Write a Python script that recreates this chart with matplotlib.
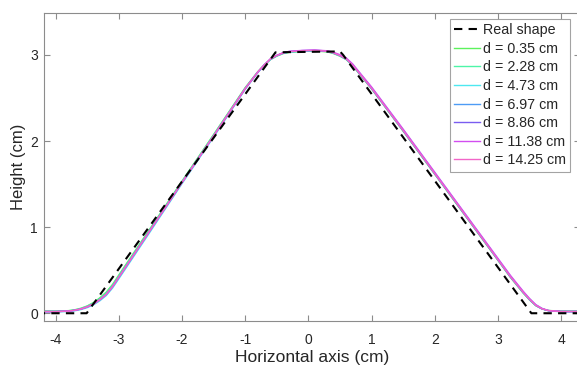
"""
Surface height profiles at several distances vs. the real trapezoid shape
"""
import matplotlib.pyplot as plt

plt.rcParams['font.family'] = ['Liberation Sans', 'DejaVu Sans']
plt.rcParams['axes.unicode_minus'] = False

# Real (nominal) trapezoid shape
real_x = [-4.3, -3.51, -0.52, 0.50, 0.55, 3.53, 4.4]
real_y = [0.0, 0.0, 3.03, 3.04, 3.00, 0.0, 0.0]

# Measured profiles, shared horizontal positions (cm)
x_meas = [-4.20, -4.00, -3.80, -3.70, -3.60, -3.50, -3.40, -3.30, -3.20, -3.10, -3.00,
          -2.50, -2.00, -1.50, -1.00,
          -0.80, -0.70, -0.60, -0.50, -0.40, -0.30, -0.10,
          0.10, 0.30, 0.40, 0.50, 0.60, 0.70, 0.80,
          1.00, 1.50, 2.00, 2.50, 3.00,
          3.20, 3.30, 3.40, 3.50, 3.60, 3.70, 3.80,
          4.00, 4.40]

h_035 = [0.025, 0.025, 0.030, 0.040, 0.058, 0.085, 0.125, 0.180, 0.245, 0.335, 0.445,
         0.990, 1.535, 2.075, 2.620,
         2.805, 2.880, 2.945, 2.985, 3.015, 3.030, 3.040,
         3.045, 3.035, 3.015, 2.985, 2.945, 2.875, 2.785,
         2.605, 2.115, 1.615, 1.115, 0.615,
         0.415, 0.325, 0.235, 0.155, 0.088, 0.050, 0.032,
         0.025, 0.025]
h_228 = [0.022, 0.022, 0.028, 0.038, 0.055, 0.082, 0.120, 0.172, 0.236, 0.325, 0.435,
         0.982, 1.530, 2.070, 2.615,
         2.803, 2.882, 2.948, 2.988, 3.018, 3.033, 3.043,
         3.048, 3.038, 3.018, 2.988, 2.948, 2.878, 2.788,
         2.608, 2.118, 1.618, 1.118, 0.618,
         0.418, 0.328, 0.238, 0.158, 0.090, 0.050, 0.031,
         0.022, 0.022]
h_473 = [0.015, 0.015, 0.020, 0.028, 0.042, 0.065, 0.098, 0.145, 0.205, 0.292, 0.400,
         0.950, 1.505, 2.045, 2.600,
         2.795, 2.878, 2.948, 2.990, 3.020, 3.035, 3.045,
         3.050, 3.042, 3.024, 2.995, 2.957, 2.890, 2.800,
         2.622, 2.132, 1.632, 1.132, 0.632,
         0.432, 0.340, 0.250, 0.168, 0.098, 0.055, 0.030,
         0.016, 0.016]
h_697 = [0.020, 0.020, 0.025, 0.035, 0.050, 0.075, 0.110, 0.160, 0.220, 0.310, 0.420,
         0.970, 1.520, 2.060, 2.610,
         2.800, 2.880, 2.950, 2.990, 3.020, 3.035, 3.045,
         3.050, 3.040, 3.020, 2.990, 2.950, 2.880, 2.790,
         2.610, 2.120, 1.620, 1.120, 0.620,
         0.420, 0.330, 0.240, 0.160, 0.090, 0.050, 0.030,
         0.020, 0.020]
h_886 = [0.020, 0.020, 0.025, 0.034, 0.049, 0.073, 0.108, 0.158, 0.218, 0.308, 0.418,
         0.968, 1.518, 2.058, 2.608,
         2.800, 2.882, 2.953, 2.994, 3.024, 3.040, 3.050,
         3.055, 3.045, 3.025, 2.995, 2.955, 2.885, 2.795,
         2.615, 2.125, 1.625, 1.125, 0.625,
         0.425, 0.335, 0.245, 0.164, 0.092, 0.051, 0.030,
         0.020, 0.020]
h_1138 = [0.018, 0.018, 0.024, 0.033, 0.048, 0.072, 0.106, 0.156, 0.216, 0.306, 0.416,
          0.966, 1.516, 2.056, 2.606,
          2.800, 2.882, 2.954, 2.995, 3.025, 3.042, 3.052,
          3.056, 3.048, 3.030, 3.002, 2.964, 2.896, 2.806,
          2.628, 2.138, 1.638, 1.138, 0.638,
          0.438, 0.347, 0.256, 0.172, 0.100, 0.056, 0.032,
          0.020, 0.020]
h_1425 = [0.020, 0.020, 0.025, 0.035, 0.050, 0.075, 0.110, 0.160, 0.220, 0.310, 0.420,
          0.970, 1.520, 2.060, 2.610,
          2.802, 2.883, 2.952, 2.992, 3.022, 3.037, 3.047,
          3.052, 3.042, 3.022, 2.992, 2.952, 2.882, 2.792,
          2.612, 2.122, 1.622, 1.122, 0.622,
          0.422, 0.332, 0.242, 0.162, 0.092, 0.051, 0.031,
          0.020, 0.020]

distances = ['0.35', '2.28', '4.73', '6.97', '8.86', '11.38', '14.25']
profiles = [h_035, h_228, h_473, h_697, h_886, h_1138, h_1425]
colors = ['#5cf25c', '#4df5a8', '#4de8f0', '#4d9cf5', '#7a5cf0', '#d24df0', '#f266c8']

fig = plt.figure(figsize=(5.77, 3.71), dpi=100)
ax = fig.add_axes([0.0768, 0.1348, 0.9284, 0.831])

ax.plot(real_x, real_y, color='black', linestyle='--', linewidth=1.5,
        dashes=(4, 3), label='Real shape', zorder=3)
for d, h, c in zip(distances, profiles, colors):
    ax.plot(x_meas, h, color=c, linewidth=1.0, label=f'd = {d} cm', zorder=2)

ax.set_xlim(-4.18, 4.3)
ax.set_ylim(-0.09, 3.49)
ax.set_xticks([-4, -3, -2, -1, 0, 1, 2, 3, 4])
ax.set_yticks([0, 1, 2, 3])

axis_gray = '#8c8c8c'
for s in ax.spines.values():
    s.set_color(axis_gray)
    s.set_linewidth(0.8)
ax.tick_params(direction='in', length=4.5, width=0.8, colors=axis_gray,
               labelcolor='#262626', labelsize=10, top=True, right=True)
ax.tick_params(axis='x', pad=9)
ax.tick_params(axis='y', pad=4.5)

ax.set_xlabel('Horizontal axis (cm)', fontsize=12.5, color='#262626', labelpad=2)
ax.set_ylabel('Height (cm)', fontsize=12, color='#262626', labelpad=3)

leg = ax.legend(loc='upper right', bbox_to_anchor=(570 / 577, 1 - 19 / 371),
                bbox_transform=fig.transFigure, fontsize=10.3, frameon=True,
                fancybox=False, borderpad=0.3, labelspacing=0.32,
                handlelength=1.8, handletextpad=0.2, borderaxespad=0)
leg.get_frame().set_edgecolor(axis_gray)
leg.get_frame().set_linewidth(0.8)
for t in leg.get_texts():
    t.set_color('#262626')

plt.savefig('out.png', dpi=100)
plt.close()
